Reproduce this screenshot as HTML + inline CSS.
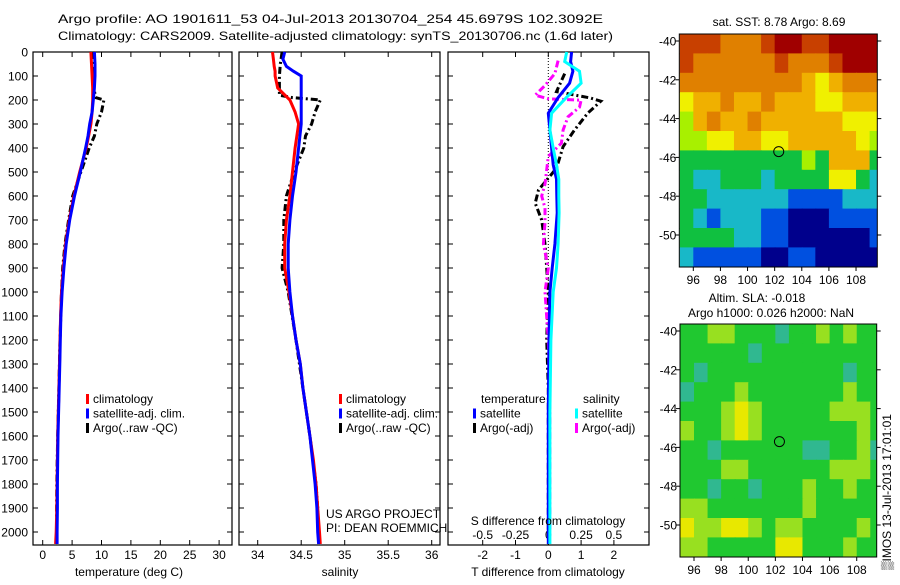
<!DOCTYPE html>
<html><head><meta charset="utf-8"><style>
body{margin:0;background:#fff;width:900px;height:580px;overflow:hidden}
svg text{font-family:"Liberation Sans",sans-serif;font-size:12px;fill:#000}
</style></head><body>
<svg id="fig" width="900" height="580" xmlns="http://www.w3.org/2000/svg">
<text x="58" y="23" font-size="14.5" textLength="545" lengthAdjust="spacingAndGlyphs">Argo profile: AO 1901611_53 04-Jul-2013 20130704_254 45.6979S 102.3092E</text>
<text x="58" y="40" font-size="14.5" textLength="555" lengthAdjust="spacingAndGlyphs">Climatology: CARS2009. Satellite-adjusted climatology: synTS_20130706.nc (1.6d later)</text>
<g id="p1"></g>
<g id="p2"></g>
<g id="p3"></g>
<g id="m1"></g>
<g id="m2"></g>
<text x="779" y="26" text-anchor="middle">sat. SST: 8.78 Argo: 8.69</text>
<text x="757" y="302" text-anchor="middle">Altim. SLA: -0.018</text>
<text x="771" y="317" text-anchor="middle">Argo h1000: 0.026 h2000: NaN</text>
<text transform="translate(891,570) rotate(-90)" font-size="12">▒IMOS 13-Jul-2013 17:01:01</text>
<text x="326" y="518">US ARGO PROJECT</text>
<text x="326" y="532">PI: DEAN ROEMMICH</text>
</svg>
<script>
// ---- data ----
const tDepth=[0,50,100,150,200,250,300,350,400,500,600,700,800,900,1000,1100,1200,1300,1400,1500,1600,1700,1800,1900,2000,2050];
const tClim=[8.2,8.3,8.4,8.5,8.5,8.4,8.2,7.8,7.4,6.3,5.3,4.5,3.9,3.5,3.2,3.05,2.95,2.85,2.75,2.65,2.55,2.5,2.45,2.4,2.3,2.2];
const tSat=[8.8,8.9,8.9,8.8,8.6,8.4,8.0,7.7,7.3,6.4,5.4,4.6,4.0,3.6,3.3,3.1,3.0,2.9,2.8,2.7,2.6,2.55,2.5,2.5,2.45,2.45];
const aDepth=[0,50,100,150,190,200,250,300,350,400,500,600,700,800,900,1000,1200,1400,1600,1800,2000];
const tArgo=[8.4,8.5,8.6,8.7,9.0,10.4,10.0,9.2,8.8,7.9,6.5,5.1,4.4,3.8,3.4,3.2,2.95,2.75,2.55,2.4,2.35];
const sDepth=[0,30,60,80,100,150,200,250,300,400,500,600,700,800,900,1000,1100,1200,1300,1400,1500,1600,1700,1800,1900,2000,2050];
const sClim=[34.17,34.18,34.19,34.2,34.2,34.23,34.37,34.43,34.47,34.43,34.4,34.37,34.33,34.31,34.31,34.36,34.40,34.44,34.49,34.52,34.56,34.6,34.64,34.67,34.69,34.71,34.72];
const sSat=[34.31,34.29,34.33,34.41,34.5,34.5,34.5,34.5,34.5,34.47,34.44,34.4,34.37,34.35,34.35,34.37,34.40,34.44,34.49,34.52,34.56,34.6,34.63,34.66,34.68,34.69,34.7];
const sArgoD=[0,50,100,150,180,190,200,250,300,350,400,500,600,700,800,900,1000,1200,1400,1600,1800,1900,2000];
const sArgo=[34.28,34.26,34.25,34.25,34.25,34.4,34.72,34.66,34.62,34.55,34.53,34.42,34.33,34.3,34.3,34.28,34.35,34.44,34.52,34.6,34.67,34.69,34.7];
const dDepth=[0,40,80,130,190,255,325,400,470,530,600,670,800,900,1000,1200,1500,1800,2000,2050];
const dTsat=[0.71,0.68,0.75,0.65,0.3,0.0,0.05,0.1,0.15,0.25,0.26,0.27,0.2,0.12,0.05,0.02,0.0,0.0,0.0,0.0];
const dSsat=[0.56,0.5,0.95,1.0,0.55,0.1,0.05,0.15,0.25,0.32,0.32,0.33,0.3,0.25,0.15,0.08,0.05,0.05,0.05,0.05];
const dArgoD=[90,165,192,205,255,325,394,484,575,630,700,800,900,1000,1200,1400,1600,1800,2000];
const dTargo=[0.5,0.25,1.3,1.6,1.2,0.8,0.45,0.25,-0.3,-0.4,-0.2,-0.1,-0.05,0,-0.05,0,0,0,0];
const dSargoD=[36,90,139,180,195,201,230,270,325,380,435,550,600,650,710,800,900,1000,1200,1500,1800,2000];
const dSargo=[0.3,0.2,-0.1,-0.4,0,1.0,0.95,0.6,0.45,0.4,0,-0.1,-0.2,-0.1,-0.1,-0.15,0,-0.1,0.0,0.05,0.05,0.05];
const depthTicks=[0,100,200,300,400,500,600,700,800,900,1000,1100,1200,1300,1400,1500,1600,1700,1800,1900,2000];
const tTicks=[0,5,10,15,20,25,30];
const sTicks=[34,34.5,35,35.5,36];
const sTickLabels=["34","34.5","35","35.5","36"];
const dTicks=[-2,-1,0,1,2];
const dSLabels=["-0.5","-0.25","0","0.25","0.5"];
const sstRows=["888777899889999","877777787778999","777777777656777","566766766655666","467667666666555","445566556666654","333333333436663","322333233335532","332222221111222","321222110001111","333322110000001","211111001100000"];
const slaRows=["334433323343433","333332333333333","323333333333233","233343333333433","333454333334443","433454333333343","332333333223342","333443333334443","332332333433433","443333333433333","544554344333343","443333355333433"];
const lonTicks=[96,98,100,102,104,106,108];
const latTicks=[-40,-42,-44,-46,-48,-50];
const sstPal=["#00008c","#0050e0","#18b8c8","#10c040","#a8f000","#f0f000","#f0b000","#e08000","#c84000","#a00000"];
const slaPal=["#0000a0","#0060e0","#30b890","#20c830","#98e020","#e8e800"];
// ---- drawing ----
const NS="http://www.w3.org/2000/svg";
function mk(p,tag,a){const e=document.createElementNS(NS,tag);for(const k in a)e.setAttribute(k,a[k]);p.appendChild(e);return e;}
const plotTop=52,plotBot=545,dScale=0.24;
const yD=d=>plotTop+d*dScale;
function frame(g,x0,x1){
  const r=mk(g,'rect',{x:x0,y:plotTop,width:x1-x0,height:plotBot-plotTop,fill:'none',stroke:'#000','stroke-width':1.2});
  
  
  depthTicks.forEach(d=>{mk(g,'line',{x1:x0,x2:x0+5,y1:yD(d),y2:yD(d),stroke:'#000'});mk(g,'line',{x1:x1,x2:x1-5,y1:yD(d),y2:yD(d),stroke:'#000'});});
}
function xTicks(g,vals,labels,xf,ly){
  vals.forEach((v,i)=>{const x=xf(v);mk(g,'line',{x1:x,x2:x,y1:plotTop,y2:plotTop+5,stroke:'#000'});mk(g,'line',{x1:x,x2:x,y1:plotBot,y2:plotBot-5,stroke:'#000'});
    const t=mk(g,'text',{x:x,y:ly,'text-anchor':'middle'});t.textContent=labels[i];
    
    });
}
function line(g,xs,ds,xf,col,w,dash,name){
  const pts=xs.map((v,i)=>xf(v).toFixed(1)+','+yD(ds[i]).toFixed(1)).join(' ');
  const a={points:pts,fill:'none',stroke:col,'stroke-width':w};if(dash)a['stroke-dasharray']=dash;
  const p=mk(g,'polyline',a);
  
  
}
function legend(g,x,y,items){items.forEach((it,i)=>{mk(g,'rect',{x:x,y:y+i*14.5-9,width:3,height:10,fill:it[1]});
  const t=mk(g,'text',{x:x+7,y:y+i*14.5});t.textContent=it[0];
  
  });}
const DASH="7,3,2,3";
let t;
// panel 1
const p1=document.getElementById('p1');const xT=v=>42.7+v*5.88;
frame(p1,33,232);
depthTicks.forEach(d=>{const tt=mk(p1,'text',{x:28,y:yD(d)+4.5,'text-anchor':'end'});tt.textContent=d;
  
  });
xTicks(p1,tTicks,tTicks.map(String),xT,559);
line(p1,tArgo,aDepth,xT,'#000',3,DASH,'temp-argo-line');
line(p1,tClim,tDepth,xT,'#f00',3,null,'temp-climatology-line');
line(p1,tSat,tDepth,xT,'#00f',3,null,'temp-satellite-line');
legend(p1,86,403,[["climatology","#f00"],["satellite-adj. clim.","#00f"],["Argo(..raw -QC)","#000"]]);
t=mk(p1,'text',{x:129,y:576,'text-anchor':'middle'});t.textContent='temperature (deg C)';


// panel 2
const p2=document.getElementById('p2');const xS=v=>257.7+(v-34)*87;
frame(p2,239,440);
xTicks(p2,sTicks,sTickLabels,xS,559);
line(p2,sArgo,sArgoD,xS,'#000',3,DASH,'salinity-argo-line');
line(p2,sClim,sDepth,xS,'#f00',3,null,'salinity-climatology-line');
line(p2,sSat,sDepth,xS,'#00f',3,null,'salinity-satellite-line');
legend(p2,339,403,[["climatology","#f00"],["satellite-adj. clim.","#00f"],["Argo(..raw -QC)","#000"]]);
t=mk(p2,'text',{x:340,y:576,'text-anchor':'middle'});t.textContent='salinity';


// panel 3
const p3=document.getElementById('p3');const xDf=v=>548.3+v*32.8;
frame(p3,448,649);
xTicks(p3,dTicks,dTicks.map(String),xDf,559);
dTicks.forEach((v,i)=>{const tt=mk(p3,'text',{x:xDf(v),y:539,'text-anchor':'middle'});tt.textContent=dSLabels[i];
  
  });
mk(p3,'line',{x1:xDf(0),x2:xDf(0),y1:plotTop,y2:plotBot,stroke:'#000','stroke-dasharray':'1,2'});
line(p3,dTargo,dArgoD,xDf,'#000',3,DASH,'tdiff-argo-line');
line(p3,dSargo,dSargoD,xDf,'#f0f',3,DASH,'sdiff-argo-line');
line(p3,dTsat,dDepth,xDf,'#00f',3,null,'tdiff-satellite-line');
line(p3,dSsat,dDepth,xDf,'#0ff',3,null,'sdiff-satellite-line');
t=mk(p3,'text',{x:481,y:403});t.textContent='temperature';


t=mk(p3,'text',{x:583,y:403});t.textContent='salinity';


legend(p3,473,417.5,[["satellite","#00f"],["Argo(-adj)","#000"]]);
legend(p3,575,417.5,[["satellite","#0ff"],["Argo(-adj)","#f0f"]]);
t=mk(p3,'text',{x:548,y:525,'text-anchor':'middle'});t.textContent='S difference from climatology';


t=mk(p3,'text',{x:548,y:576,'text-anchor':'middle'});t.textContent='T difference from climatology';


// maps
function map(id,rows,pal,x0,x1,yTop,y40,lonLabY){
  const g=document.getElementById(id);
  const xL=v=>693.3+(v-96)*13.56+(x0-679.3), yL=v=>y40+(-40-v)*19.4;
  const latTop=-40+(y40-yTop)/19.4;
  const yBot=yL(-51.65);
  const clip='c'+id;const cp=mk(g,'clipPath',{id:clip});mk(cp,'rect',{x:x0,y:yTop,width:x1-x0,height:yBot-yTop});
  const cg=mk(g,'g',{'clip-path':'url(#'+clip+')'});
  rows.forEach((r,j)=>{for(let i=0;i<r.length;i++){
    const c=mk(cg,'rect',{x:xL(95+i),y:yL(latTop-j),width:14.5,height:20.2,fill:pal[+r[i]]});
    
    }});
  mk(g,'rect',{x:x0,y:yTop,width:x1-x0,height:yBot-yTop,fill:'none',stroke:'#000'});
  lonTicks.forEach(v=>{mk(g,'line',{x1:xL(v),x2:xL(v),y1:yBot,y2:yBot+4,stroke:'#000'});const tt=mk(g,'text',{x:xL(v),y:lonLabY,'text-anchor':'middle'});tt.textContent=v;
    
    });
  latTicks.forEach(v=>{mk(g,'line',{x1:x0-4,x2:x0,y1:yL(v),y2:yL(v),stroke:'#000'});mk(g,'line',{x1:x1,x2:x1+4,y1:yL(v),y2:yL(v),stroke:'#000'});const tt=mk(g,'text',{x:x0-3,y:yL(v)+4.5,'text-anchor':'end'});tt.textContent=v;
    
    });
  const m=mk(g,'circle',{cx:xL(102.3),cy:yL(-45.7),r:5,fill:'none',stroke:'#000'});
  
  
}
map('m1',sstRows,sstPal,679.3,877.3,34,41,284);
map('m2',slaRows,slaPal,680,876.7,324,331,574);
</script>
</body></html>
